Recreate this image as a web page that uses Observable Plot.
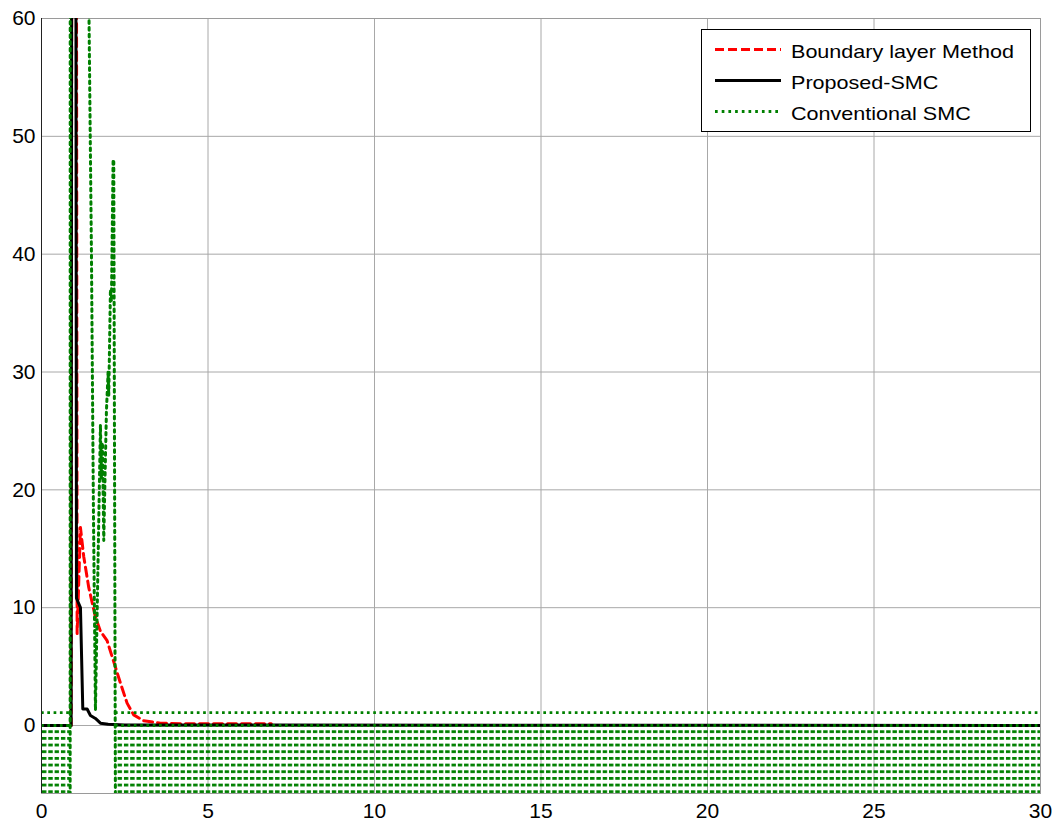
<!DOCTYPE html>
<html><head><meta charset="utf-8">
<script src="https://cdn.jsdelivr.net/npm/d3@7"></script>
<script src="https://cdn.jsdelivr.net/npm/@observablehq/plot@0.6"></script>
<style>
body{margin:0;background:#fff}
#wrap{position:relative;width:1055px;height:825px}
#legend{position:absolute;left:0;top:0}
</style>
</head><body><div id="wrap"></div>
<script>
// ---- data ----
const xTicks = [0, 5, 10, 15, 20, 25, 30];
const yTicks = [0, 10, 20, 30, 40, 50, 60];
const xDomain = [0, 30];
const yDomain = [-5.77, 60];
const seriesNames = ["Boundary layer Method", "Proposed-SMC", "Conventional SMC"];

// Boundary layer Method (red dashed)
const boundaryT = [0, 0.89, 0.97, 1.07, 1.17, 1.27, 1.42, 1.62, 1.77, 1.97, 2.17, 2.37, 2.57, 2.77, 3.05, 3.57, 4.26, 6.9];
const boundaryY = [0, 0, 300, 7.8, 16.8, 14.3, 11.7, 9.2, 8.0, 7.2, 5.4, 3.6, 1.9, 0.9, 0.42, 0.2, 0.14, 0.14];

// Proposed-SMC (black solid)
const proposedT = [0, 0.89, 0.96, 1.05, 1.17, 1.24, 1.37, 1.47, 1.62, 1.77, 2.0, 2.5, 30];
const proposedY = [0, 0, 300, 10.8, 10.0, 1.4, 1.4, 0.85, 0.6, 0.2, 0.1, 0.05, 0];

// Conventional SMC (green dotted): transient part
const conventionalT = [0.86, 0.87, 1.40, 1.42, 1.50, 1.56, 1.62, 1.68, 1.77, 1.80, 1.83, 1.87, 1.90, 1.95, 2.00, 2.02, 2.07, 2.10, 2.15, 2.17, 2.22];
const conventionalY = [-7, 300, 300, 62, 40, 18, 1.3, 11, 25.5, 21, 24, 15.7, 20, 26.7, 30, 28, 37, 36, 48, 48, -7];
// Conventional SMC chattering: time ranges and envelope
const chatterStart = [0, 2.22];
const chatterEnd = [0.86, 30];
const chatterHigh = 1.1;
const chatterMid = 0;
const chatterLow = -7;

// ---- tables ----
const boundary = boundaryT.map((t, i) => ({t, v: boundaryY[i]}));
const proposed = proposedT.map((t, i) => ({t, v: proposedY[i]}));
const conventional = conventionalT.map((t, i) => ({t, v: conventionalY[i]}));
const chatterBand = chatterStart.map((s, i) => ({t0: s, t1: chatterEnd[i], lo: chatterLow, hi: chatterMid}));
const chatterEdges = chatterStart.flatMap((s, i) => [
  {t0: s, t1: chatterEnd[i], level: chatterHigh},
  {t0: s, t1: chatterEnd[i], level: chatterMid}
]);

const GREEN = "#008000";
const W = 1055, H = 825;
const chart = Plot.plot({
  width: W, height: H,
  marginLeft: 41, marginRight: 15, marginTop: 18, marginBottom: 32,
  style: {fontFamily: "'Liberation Sans', Arial, sans-serif", fontSize: "21px", background: "white", color: "black"},
  x: {domain: xDomain, ticks: xTicks, label: null},
  y: {domain: yDomain, ticks: yTicks, label: null},
  marks: [
    Plot.gridX(xTicks, {stroke: "#a8a8a8", strokeOpacity: 1, strokeWidth: 1}),
    Plot.gridY(yTicks, {stroke: "#a8a8a8", strokeOpacity: 1, strokeWidth: 1}),
    Plot.frame({stroke: "#9a9a9a"}),
    Plot.rect(chatterBand, {x1: "t0", x2: "t1", y1: "lo", y2: "hi", fill: "url(#chatterFill)", clip: true}),
    Plot.line(boundary, {x: "t", y: "v", stroke: "#ff0000", strokeWidth: 3, strokeDasharray: "9,5", clip: true}),
    Plot.line(proposed, {x: "t", y: "v", stroke: "#000", strokeWidth: 3, clip: true}),
    Plot.line(conventional, {x: "t", y: "v", stroke: GREEN, strokeWidth: 3, strokeDasharray: "2.7,4", clip: true}),
    Plot.ruleY(chatterEdges, {x1: "t0", x2: "t1", y: "level", stroke: GREEN, strokeWidth: 2.8, strokeDasharray: "2.7,3.6", clip: true}),
    Plot.ruleX([xDomain[0]], {stroke: "#222", strokeWidth: 1}),
    Plot.axisX(xTicks, {tickSize: 0, tickPadding: 10, fontSize: 21}),
    Plot.axisY(yTicks, {tickSize: 0, tickPadding: 6, fontSize: 21})
  ]
});

// dotted-row texture for the chattering band
const ns = "http://www.w3.org/2000/svg";
const y0px = chart.scale("y").apply(0);
const defs = document.createElementNS(ns, "defs");
const rowH = 6.67, colW = 6.3;
defs.innerHTML = `<pattern id="chatterFill" patternUnits="userSpaceOnUse" x="42" y="${y0px + rowH - 1.4}" width="${colW}" height="${rowH}">
  <rect x="0" y="0" width="4.4" height="2.8" fill="${GREEN}"/></pattern>`;
chart.insertBefore(defs, chart.firstChild);

document.getElementById("wrap").appendChild(chart);

// legend (inside the plot, top right)
const lg = document.createElementNS(ns, "svg");
lg.setAttribute("id", "legend");
lg.setAttribute("width", W);
lg.setAttribute("height", 160);
const items = [
  {name: seriesNames[0], stroke: "#ff0000", dash: "9,4", w: 3},
  {name: seriesNames[1], stroke: "#000", dash: null, w: 3},
  {name: seriesNames[2], stroke: GREEN, dash: "2.7,4", w: 3}
];
let s = `<rect x="701.5" y="29.5" width="329" height="102" fill="white" stroke="black" stroke-width="1"/>`;
items.forEach((it, i) => {
  const cy = 49.5 + i * 31;
  s += `<line x1="715" x2="781" y1="${cy}" y2="${cy}" stroke="${it.stroke}" stroke-width="${it.w}" ${it.dash ? `stroke-dasharray="${it.dash}"` : ""}/>`;
  s += `<text transform="translate(791,${cy + 8}) scale(1.16,1)" font-family="'Liberation Sans', Arial, sans-serif" font-size="18.6" fill="black">${it.name}</text>`;
});
lg.innerHTML = s;
document.getElementById("wrap").appendChild(lg);
</script>
</body></html>
